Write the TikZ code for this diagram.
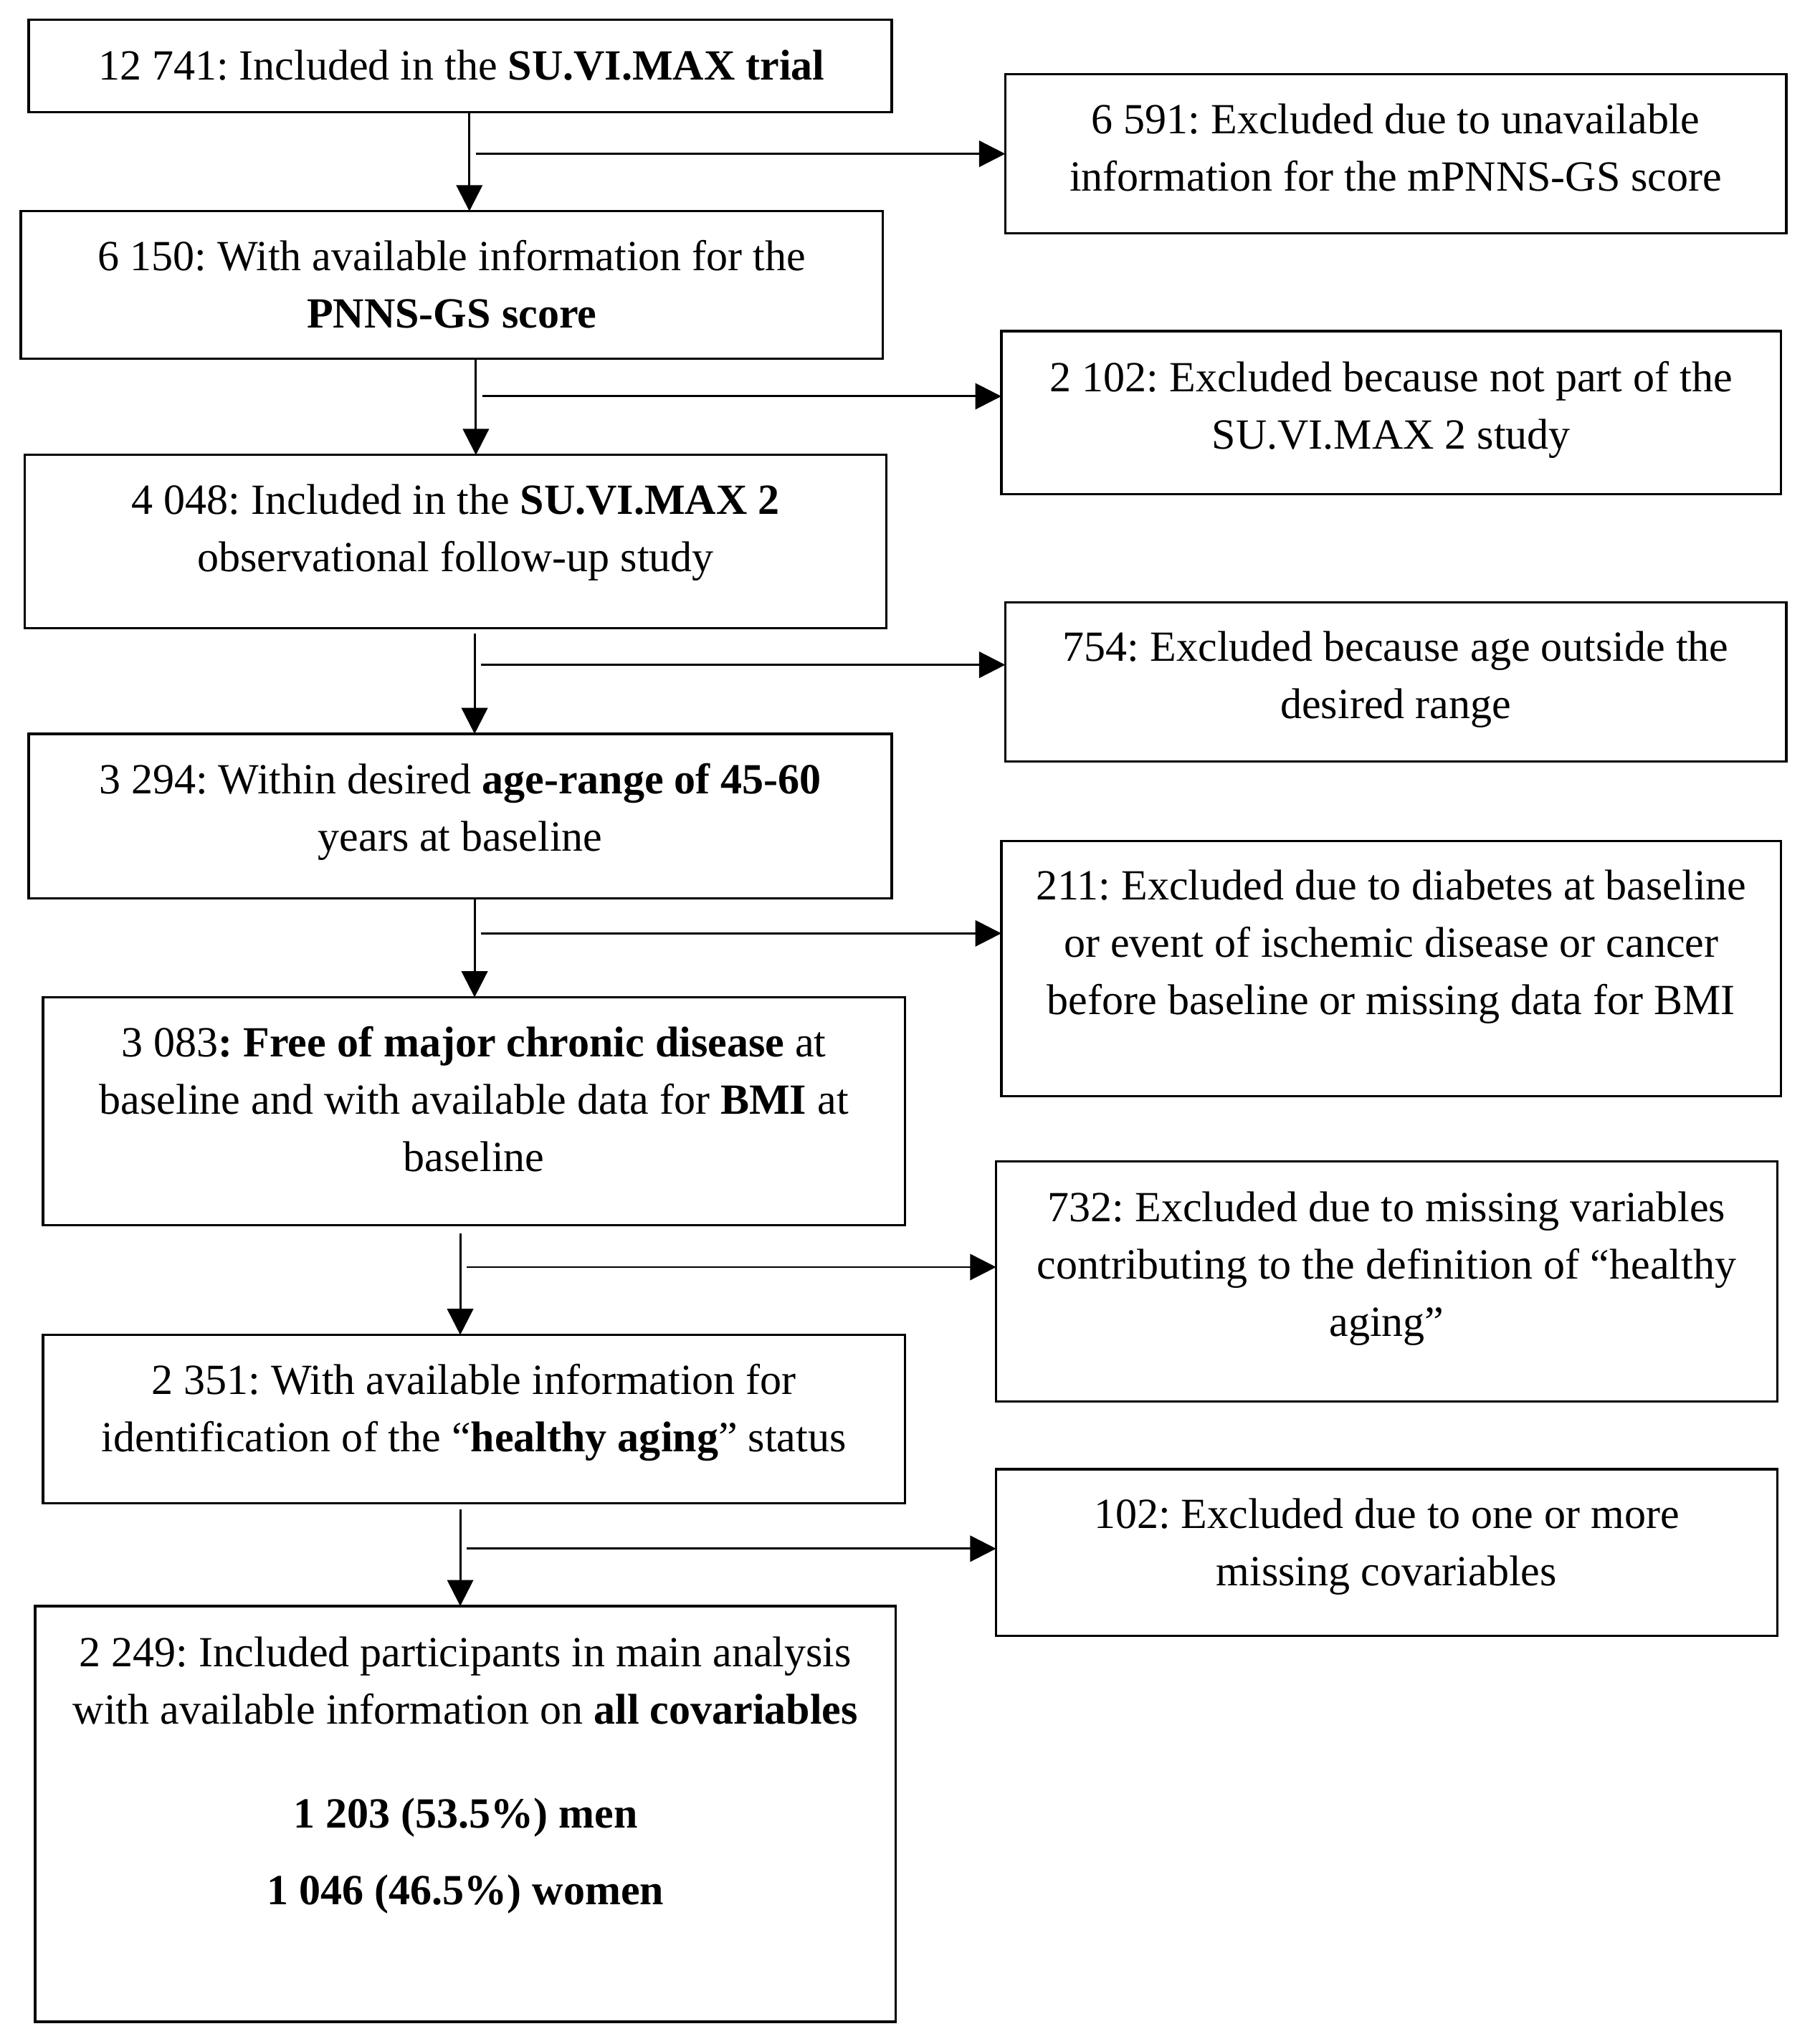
\documentclass[tikz,border=0pt]{standalone}
\usepackage{fontspec}
\setmainfont{Liberation Serif}
\usetikzlibrary{arrows.meta}
\frenchspacing
\begin{document}
\begin{tikzpicture}[x=0.5pt,y=-0.5pt,
  box/.style={draw=black, line width=0.9pt, inner sep=0pt, outer sep=0pt},
  txt/.style={align=center, inner sep=0pt, anchor=north, font=\frenchspacing\fontsize{16.5pt}{22pt}\selectfont},
  arr/.style={line width=0.8pt, -{Triangle[length=10pt,width=10pt]}}]
\fill[white] (0,0) rectangle (1392,1568);
\useasboundingbox (0,0) rectangle (1392,1568);

% left column boxes
\node[box, minimum width=331pt,   minimum height=35.5pt] (A) at (353,50.5) {};
\node[box, minimum width=330.5pt, minimum height=56.5pt] (B) at (346.5,218.5) {};
\node[box, minimum width=330.5pt, minimum height=66.5pt] (C) at (349.5,415.5) {};
\node[box, minimum width=331pt,   minimum height=63pt]   (D) at (353,626) {};
\node[box, minimum width=330.5pt, minimum height=87.5pt] (E) at (363.5,852.5) {};
\node[box, minimum width=330.5pt, minimum height=64.5pt] (F) at (363.5,1088.5) {};
\node[box, minimum width=330pt,   minimum height=159.5pt] (G) at (357,1391.5) {};

% right column boxes
\node[box, minimum width=299.5pt, minimum height=61pt]   (R1) at (1070.5,118) {};
\node[box, minimum width=299pt,   minimum height=62.5pt] (R2) at (1067,316.5) {};
\node[box, minimum width=299.5pt, minimum height=61pt]   (R3) at (1070.5,523) {};
\node[box, minimum width=299pt,   minimum height=98pt]   (R4) at (1067,743) {};
\node[box, minimum width=299.5pt, minimum height=92pt]   (R5) at (1063.5,983) {};
\node[box, minimum width=299.5pt, minimum height=64pt]   (R6) at (1063.5,1191) {};

% texts
\node[txt] (At) at (354,38) {12 741: Included in the \textbf{SU.VI.MAX trial}};
\node[txt] (Bt) at (346.5,184) {6 150: With available information for the\\\textbf{PNNS-GS score}};
\node[txt] (Ct) at (349.5,371) {4 048: Included in the \textbf{SU.VI.MAX 2}\\observational follow-up study};
\node[txt] (Dt) at (353,585) {3 294: Within desired \textbf{age-range of 45-60}\\years at baseline};
\node[txt] (Et) at (363.5,787) {3 083\textbf{: Free of major chronic disease} at\\baseline and with available data for \textbf{BMI} at\\baseline};
\node[txt] (Ft) at (363.5,1046) {2 351: With available information for\\identification of the “\textbf{healthy aging}” status};
\node[txt] (Gt) at (357,1255) {2 249: Included participants in main analysis\\with available information on \textbf{all covariables}\\[18pt]\textbf{1 203 (53.5\%) men}\\[7.5pt]\textbf{1 046 (46.5\%) women}};

\node[txt] (R1t) at (1070.5,79) {6 591: Excluded due to unavailable\\information for the mPNNS-GS score};
\node[txt] (R2t) at (1067,277) {2 102: Excluded because not part of the\\SU.VI.MAX 2 study};
\node[txt] (R3t) at (1070.5,484) {754: Excluded because age outside the\\desired range};
\node[txt] (R4t) at (1067,667) {211: Excluded due to diabetes at baseline\\or event of ischemic disease or cancer\\before baseline or missing data for BMI};
\node[txt] (R5t) at (1063.5,914) {732: Excluded due to missing variables\\contributing to the definition of “healthy\\aging”};
\node[txt] (R6t) at (1063.5,1149) {102: Excluded due to one or more\\missing covariables};

% connector coordinates
\coordinate (v1) at (360,0);
\coordinate (v2) at (365,0);
\coordinate (v3) at (364,0);
\coordinate (v4) at (364,0);
\coordinate (v5) at (353,0);
\coordinate (v6) at (353,0);
\coordinate (h1) at (365,118);
\coordinate (h2) at (370,304);
\coordinate (h3) at (369,510);
\coordinate (h4) at (369,716);
\coordinate (h5) at (358,972);
\coordinate (h6) at (358,1188);

% vertical arrows
\draw[arr] (A.south -| v1) -- (B.north -| v1);
\draw[arr] (B.south -| v2) -- (C.north -| v2);
\draw[arr] ([yshift=-2pt]C.south -| v3) -- (D.north -| v3);
\draw[arr] (D.south -| v4) -- (E.north -| v4);
\draw[arr] ([yshift=-3pt]E.south -| v5) -- (F.north -| v5);
\draw[arr] ([yshift=-2.5pt]F.south -| v6) -- (G.north -| v6);

% horizontal arrows
\draw[arr] (h1) -- (R1.west |- h1);
\draw[arr] (h2) -- (R2.west |- h2);
\draw[arr] (h3) -- (R3.west |- h3);
\draw[arr] (h4) -- (R4.west |- h4);
\draw[arr] (h5) -- (R5.west |- h5);
\draw[arr] (h6) -- (R6.west |- h6);
\end{tikzpicture}
\end{document}
